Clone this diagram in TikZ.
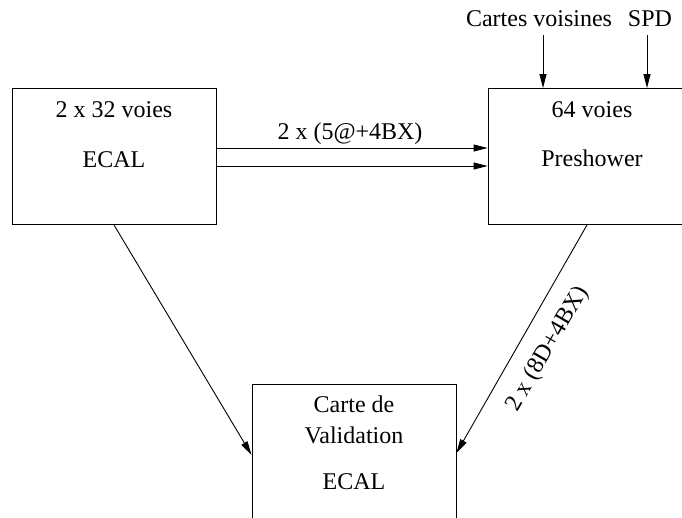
\documentclass[tikz,border=0pt]{standalone}
\usepackage{fontspec}
\setmainfont{Liberation Serif}
\usetikzlibrary{arrows.meta}
\begin{document}
\begin{tikzpicture}[x=1pt,y=-1pt,
  box/.style={draw,line width=0.9pt,minimum width=204pt,minimum height=136pt,inner sep=0pt},
  txt/.style={font=\fontsize{24}{28}\selectfont,inner sep=0pt,anchor=base},
  arr/.style={line width=0.9pt,-{Triangle[length=14pt,width=7pt]}}]
\useasboundingbox (0,0) rectangle (682,517);
\clip (0,0) rectangle (682,517);
\node[box] (ecal) at (114,156.5) {};
\node[box] (pre) at (590,156.5) {};
\node[box] (val) at (354,452) {};
\node[txt] (t1) at (114,117) {2 x 32 voies};
\node[txt] (t2) at (114,167) {ECAL};
\node[txt] (t3) at (592,117) {64 voies};
\node[txt] (t4) at (592,166) {Preshower};
\node[txt] (t5) at (354,412) {Carte de};
\node[txt] (t6) at (354,443) {Validation};
\node[txt] (t7) at (354,489) {ECAL};
\node[txt] (cv) at (539,26) {Cartes voisines};
\node[txt] (spd) at (650,26) {SPD};
\node[txt] (l1) at (350,139) {2 x (5@+4BX)};
\node[font=\fontsize{24}{28}\selectfont,inner sep=0pt,rotate=60] (l2) at (548,349) {2 x (8D+4BX)};
\coordinate (cva) at (543,35);
\coordinate (spda) at (647,35);
\coordinate (h1) at (0,148);
\coordinate (h2) at (0,166);
\coordinate (d1) at (0,455);
\coordinate (d2) at (0,453);
\draw[arr] (cva) -- (cva |- pre.north);
\draw[arr] (spda) -- (spda |- pre.north);
\draw[arr] (ecal.east |- h1) -- (pre.west |- h1);
\draw[arr] (ecal.east |- h2) -- (pre.west |- h2);
\draw[arr] (ecal.south) -- (val.west |- d1);
\draw[arr] ([xshift=-3pt]pre.south) -- (val.east |- d2);
\end{tikzpicture}
\end{document}
